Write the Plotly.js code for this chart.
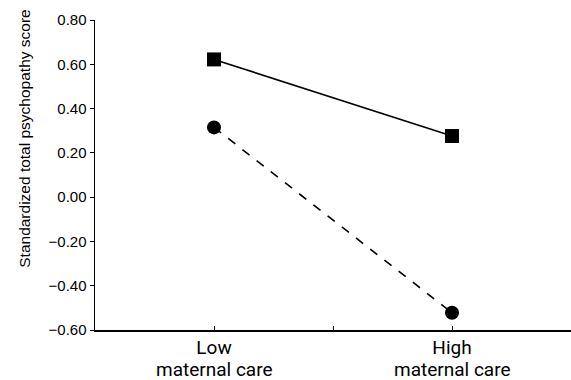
<!DOCTYPE html>
<html>
<head>
<meta charset="utf-8">
<script src="https://cdn.plot.ly/plotly-3.0.1.min.js"></script>
<style>html,body{margin:0;padding:0;background:#fff;}#chart{width:571px;height:380px;}</style>
</head>
<body>
<div id="chart"></div>
<script>
var categories = ["Low", "High"];
var categorySub = ["maternal care", "maternal care"];
var squareSeries = [0.622, 0.276];
var circleSeries = [0.315, -0.522];
var yTitle = "Standardized total psychopathy score";

var xIdx = categories.map(function(c, i){ return i; });

var traces = [
  {x: xIdx, y: squareSeries, mode: "lines+markers", type: "scatter",
   line: {color: "#000", width: 1.6, dash: "solid"},
   marker: {symbol: "square", size: 14, color: "#000"}},
  {x: xIdx, y: circleSeries, mode: "lines+markers", type: "scatter",
   line: {color: "#000", width: 1.6, dash: "dash"},
   marker: {symbol: "circle", size: 14, color: "#000"}}
];

var annotations = [{
  text: yTitle, textangle: -90, showarrow: false,
  xref: "paper", yref: "paper", x: -0.147, y: 0.617,
  xanchor: "center", yanchor: "middle",
  font: {family: "Liberation Sans", size: 15.5, color: "#000"}
}];
categorySub.forEach(function(s, i){
  annotations.push({
    text: s, showarrow: false, xref: "x", yref: "paper",
    x: xIdx[i], y: -0.127, xanchor: "center", yanchor: "middle",
    font: {family: "Roboto", size: 19, color: "#000"}
  });
});

var layout = {
  width: 571, height: 380,
  margin: {l: 95, r: 0, t: 20, b: 50},
  showlegend: false,
  paper_bgcolor: "#fff", plot_bgcolor: "#fff",
  xaxis: {
    range: [-0.5, 1.5], showgrid: false, zeroline: false,
    showline: true, linecolor: "#000", linewidth: 1.5,
    tickmode: "array", tickvals: [0, 0.5, 1], ticktext: [categories[0], "", categories[1]],
    ticks: "inside", ticklen: 4, tickwidth: 1, tickcolor: "#000",
    tickfont: {family: "Roboto", size: 19, color: "#000"}
  },
  yaxis: {
    range: [-0.6, 0.8], dtick: 0.2, tick0: 0, tickformat: ".2f",
    showgrid: false, zeroline: false,
    showline: true, linecolor: "#000", linewidth: 1.5,
    ticks: "outside", ticklen: 4, tickwidth: 1, tickcolor: "#000",
    tickfont: {family: "Liberation Sans", size: 15, color: "#000"}
  },
  annotations: annotations
};

Plotly.newPlot("chart", traces, layout, {displayModeBar: false, staticPlot: true});
</script>
</body>
</html>
